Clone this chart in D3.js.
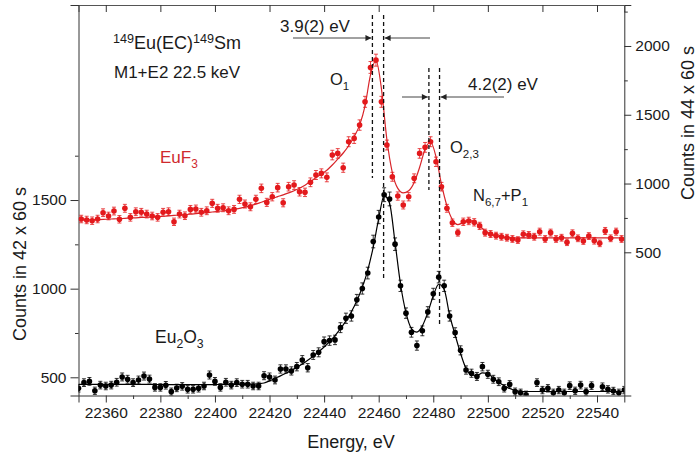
<!DOCTYPE html>
<html>
<head>
<meta charset="utf-8">
<script src="https://cdn.jsdelivr.net/npm/d3@7"></script>
<style>
body { margin: 0; background: #fff; }
svg text { font-family: "Liberation Sans", Arial, sans-serif; fill: #1a1a1a; }
</style>
</head>
<body>
<svg id="chart" width="697" height="458"></svg>
<script>
// Eu2O3 (black, left axis) - energies and counts
var energyEven = [22350,22352,22354,22356,22358,22360,22362,22364,22366,22368,
  22370,22372,22374,22376,22378,22380,22382,22384,22386,22388,
  22390,22392,22394,22396,22398,22400,22402,22404,22406,22408,
  22410,22412,22414,22416,22418,22420,22422,22424,22426,22428,
  22430,22432,22434,22436,22438,22440,22442,22444,22446,22448,
  22450,22452,22454,22456,22458,22460,22462,22464,22466,22468,
  22470,22472,22474,22476,22478,22480,22482,22484,22486,22488,
  22490,22492,22494,22496,22498,22500,22502,22504,22506,22508,
  22510,22512,22514,22516,22518,22520,22522,22524,22526,22528,
  22530,22532,22534,22536,22538,22540,22542,22544,22546,22548,22550];
var oxideCounts = [438,470,477,424,456,451,456,472,502,489,
  470,485,507,490,443,443,455,419,440,449,
  432,432,438,451,513,477,443,472,456,470,
  461,461,451,451,509,502,485,547,547,536,
  560,598,554,626,641,701,707,711,780,833,
  846,937,1001,1088,1266,1404,1530,1506,1251,1016,
  862,754,679,762,869,971,1065,1016,846,752,
  652,541,523,505,560,517,489,475,438,460,
  419,413,402,null,470,428,438,413,428,413,
  453,424,456,419,453,null,447,432,423,413,428];
var oxideFit = [460,460,460,460,460,460,460,460,460,460,
  460,460,460,460,460,459,459,459,459,459,
  459,459,459,459,459,459,460,460,460,460,
  460,461,462,464,468,480,494,508,523,539,
  556,575,596,619,644,671,701,735,774,818,
  870,932,1008,1105,1235,1395,1525,1480,1260,1025,
  865,775,755,790,865,960,1025,995,850,740,
  635,550,515,510,525,520,495,472,452,437,
  427,421,420,420,420,420,420,420,420,420,
  420,420,420,420,420,420,420,420,420,420,420];

// EuF3 (red, right axis)
var energyOdd = [22351,22353,22355,22357,22359,22361,22363,22365,22367,22369,
  22371,22373,22375,22377,22379,22381,22383,22385,22387,22389,
  22391,22393,22395,22397,22399,22401,22403,22405,22407,22409,
  22411,22413,22415,22417,22419,22421,22423,22425,22427,22429,
  22431,22433,22435,22437,22439,22441,22443,22445,22447,22449,
  22451,22453,22455,22457,22459,22461,22463,22465,22467,22469,
  22471,22473,22475,22477,22479,22481,22483,22485,22487,22489,
  22491,22493,22495,22497,22499,22501,22503,22505,22507,22509,
  22511,22513,22515,22517,22519,22521,22523,22525,22527,22529,
  22531,22533,22535,22537,22539,22541,22543,22545,22547,22549];
var fluorideCounts = [742,735,730,742,788,764,800,740,820,754,
  795,791,778,764,754,791,795,722,778,766,
  812,815,791,802,856,820,824,802,812,885,
  851,831,885,965,863,904,970,860,977,989,
  940,936,1009,1062,1074,1045,1207,1219,1115,1304,
  1328,1425,1594,1844,1897,1594,1280,1049,909,844,
  904,1038,1219,1263,1304,1158,977,820,715,643,
  722,728,718,692,643,633,621,613,606,597,
  589,631,626,613,650,597,643,597,606,573,
  638,602,582,618,584,565,655,602,650,597];
var fluorideFit = [735,736,737,738,739,741,743,745,747,749,
  751,753,755,757,759,762,765,768,771,774,
  777,781,785,789,793,797,802,807,813,820,
  828,838,850,864,878,892,905,918,932,948,
  966,988,1014,1044,1068,1097,1135,1178,1222,1275,
  1340,1425,1565,1790,1895,1690,1320,1080,965,932,
  948,1008,1118,1250,1302,1195,995,838,738,702,
  716,730,720,690,655,632,619,611,607,605,
  605,605,605,605,605,605,605,605,605,605,
  605,605,605,605,605,605,605,605,605,605];

// axis ticks
var xMajor = [22360,22380,22400,22420,22440,22460,22480,22500,22520,22540];
var xMinor = [22370,22390,22410,22430,22450,22470,22490,22510,22530];
var leftMajor = [500,1000,1500];
var leftMinor = [750,1250,1750];
var rightMajor = [500,1000,1500,2000];
var rightMinor = [750,1250,1750,2250];

// peak markers (energies of fitted peaks)
var peakLines = [
  {e: 22457.7, y1: 15, y2: 178},
  {e: 22461.8, y1: 15, y2: 280},
  {e: 22478.4, y1: 68, y2: 190},
  {e: 22482.3, y1: 68, y2: 326}
];

var redDot = '#e3191c';
var redLine = '#d8252a';
var redText = '#cf2a2e';

/*************************** layout ***************************/
var svg = d3.select('#chart');
var L = 78.5, R = 624.3, T = 5, B = 395.5;

var x = d3.scaleLinear().domain([22350, 22550]).range([L, R]);
var yL = d3.scaleLinear().domain([397.4, 2600]).range([B, T]);
var yR = d3.scaleLinear().domain([-541, 2298]).range([B, T]);

svg.append('defs').append('clipPath').attr('id', 'plotclip')
  .append('rect').attr('x', L).attr('y', T).attr('width', R - L).attr('height', B - T);

var defs = svg.select('defs');
defs.append('marker').attr('id', 'arrow').attr('viewBox', '0 0 10 10')
  .attr('refX', 10).attr('refY', 5).attr('markerWidth', 8).attr('markerHeight', 6)
  .attr('markerUnits', 'userSpaceOnUse').attr('orient', 'auto')
  .append('path').attr('d', 'M0,0 L10,5 L0,10 Z').attr('fill', '#222');

/*************************** axes ***************************/
function drawAxis(axis, tx, ty, major, minor, majorLen, minorLen) {
  var g = svg.append('g').attr('transform', 'translate(' + tx + ',' + ty + ')');
  g.call(axis.tickValues(major).tickSize(majorLen).tickPadding(4));
  g.select('.domain').attr('stroke', '#333');
  g.selectAll('.tick line').attr('stroke', '#333');
  g.selectAll('.tick text').attr('font-size', '15.5px').attr('fill', '#1a1a1a')
    .attr('font-family', '"Liberation Sans", Arial, sans-serif');
  if (minor) {
    var gm = svg.append('g').attr('transform', 'translate(' + tx + ',' + ty + ')');
    gm.call(axis.tickValues(minor).tickSize(minorLen).tickFormat(''));
    gm.select('.domain').remove();
    gm.selectAll('.tick line').attr('stroke', '#333');
  }
  return g;
}

drawAxis(d3.axisBottom(x).tickFormat(d3.format('d')), 0, B, xMajor, xMinor, 7, 3.5);
var topAx = svg.append('g').attr('transform', 'translate(0,' + T + ')')
  .call(d3.axisTop(x).tickValues(xMajor).tickSize(-7).tickFormat(''));
topAx.select('.domain').attr('stroke', '#555');
topAx.selectAll('.tick line').attr('stroke', '#333');

drawAxis(d3.axisLeft(yL).tickFormat(d3.format('d')), L, 0, leftMajor, leftMinor, 8, 3.5);
drawAxis(d3.axisRight(yR).tickFormat(d3.format('d')), R, 0, rightMajor, rightMinor, 7, 3.5);

svg.selectAll('.tick text').each(function () {
  d3.select(this).attr('font-size', '15.5px');
});

svg.append('text').attr('x', 351).attr('y', 448).attr('text-anchor', 'middle')
  .attr('font-size', '18px').text('Energy, eV');
svg.append('text').attr('transform', 'translate(26,264) rotate(-90)').attr('text-anchor', 'middle')
  .attr('font-size', '18px').text('Counts in 42 x 60 s');
svg.append('text').attr('transform', 'translate(694,123) rotate(-90)').attr('text-anchor', 'middle')
  .attr('font-size', '18px').text('Counts in 44 x 60 s');

/*************************** data ***************************/
var plot = svg.append('g').attr('clip-path', 'url(#plotclip)');

function drawSeries(energies, counts, fit, yScale, dotColor, lineColor) {
  var pts = energies.map(function (e, i) { return {e: e, v: counts[i]}; })
    .filter(function (d) { return d.v != null; });
  var line = d3.line()
    .x(function (d, i) { return x(energies[i]); })
    .y(function (d) { return yScale(d); })
    .curve(d3.curveMonotoneX);
  plot.append('path').datum(fit).attr('d', line)
    .attr('fill', 'none').attr('stroke', lineColor).attr('stroke-width', 1.2);

  var g = plot.append('g');
  // statistical error bars, sqrt(N)
  var eb = g.selectAll('g.eb').data(pts).enter().append('g').attr('class', 'eb')
    .attr('stroke', dotColor).attr('stroke-width', 0.8);
  eb.append('line')
    .attr('x1', function (d) { return x(d.e); }).attr('x2', function (d) { return x(d.e); })
    .attr('y1', function (d) { return yScale(d.v + Math.sqrt(d.v)); })
    .attr('y2', function (d) { return yScale(d.v - Math.sqrt(d.v)); });
  eb.append('line')
    .attr('x1', function (d) { return x(d.e) - 2; }).attr('x2', function (d) { return x(d.e) + 2; })
    .attr('y1', function (d) { return yScale(d.v + Math.sqrt(d.v)); })
    .attr('y2', function (d) { return yScale(d.v + Math.sqrt(d.v)); });
  eb.append('line')
    .attr('x1', function (d) { return x(d.e) - 2; }).attr('x2', function (d) { return x(d.e) + 2; })
    .attr('y1', function (d) { return yScale(d.v - Math.sqrt(d.v)); })
    .attr('y2', function (d) { return yScale(d.v - Math.sqrt(d.v)); });
  g.selectAll('circle').data(pts).enter().append('circle')
    .attr('cx', function (d) { return x(d.e); })
    .attr('cy', function (d) { return yScale(d.v); })
    .attr('r', 2.8).attr('fill', dotColor);
}

drawSeries(energyOdd, fluorideCounts, fluorideFit, yR, redDot, redLine);
drawSeries(energyEven, oxideCounts, oxideFit, yL, '#000', '#000');

/*************************** annotations ***************************/
svg.append('g').selectAll('line').data(peakLines).enter().append('line')
  .attr('x1', function (d) { return x(d.e); }).attr('x2', function (d) { return x(d.e); })
  .attr('y1', function (d) { return d.y1; }).attr('y2', function (d) { return d.y2; })
  .attr('stroke', '#111').attr('stroke-width', 1.3).attr('stroke-dasharray', '4,3');

function arrow(x1, x2, y) {
  svg.append('line').attr('x1', x1).attr('x2', x2).attr('y1', y).attr('y2', y)
    .attr('stroke', '#444').attr('stroke-width', 1).attr('marker-end', 'url(#arrow)');
}
arrow(293, x(peakLines[0].e) - 1, 38);
arrow(430, x(peakLines[1].e) + 1, 38);
arrow(402, x(peakLines[2].e) - 1, 97);
arrow(504, x(peakLines[3].e) + 1, 97);

svg.append('text').attr('x', 280).attr('y', 32).attr('font-size', '17px').text('3.9(2) eV');
svg.append('text').attr('x', 468).attr('y', 90).attr('font-size', '17px').text('4.2(2) eV');

function richText(xp, yp, size, parts, color) {
  var t = svg.append('text').attr('x', xp).attr('y', yp).attr('font-size', size + 'px');
  if (color) t.style('fill', color);
  var shift = 0;
  parts.forEach(function (p) {
    var target = p.sup ? -6.5 : (p.sub ? 4.5 : 0);
    t.append('tspan').attr('dy', target - shift)
      .attr('font-size', (p.sup || p.sub ? size * 0.7 : size) + 'px').text(p.t);
    shift = target;
  });
  return t;
}

richText(113, 49, 18, [{t: '149', sup: true}, {t: 'Eu(EC)'}, {t: '149', sup: true}, {t: 'Sm'}]);
richText(114, 78, 17, [{t: 'M1+E2 22.5 keV'}]);
richText(330, 85, 16.5, [{t: 'O'}, {t: '1', sub: true}]);
richText(450, 153, 16.5, [{t: 'O'}, {t: '2,3', sub: true}]);
richText(473, 201, 16.5, [{t: 'N'}, {t: '6,7', sub: true}, {t: '+P'}, {t: '1', sub: true}]);
richText(160, 163, 17, [{t: 'EuF'}, {t: '3', sub: true}], redText);
richText(155, 343, 17.5, [{t: 'Eu'}, {t: '2', sub: true}, {t: 'O'}, {t: '3', sub: true}]);
</script>
</body>
</html>
